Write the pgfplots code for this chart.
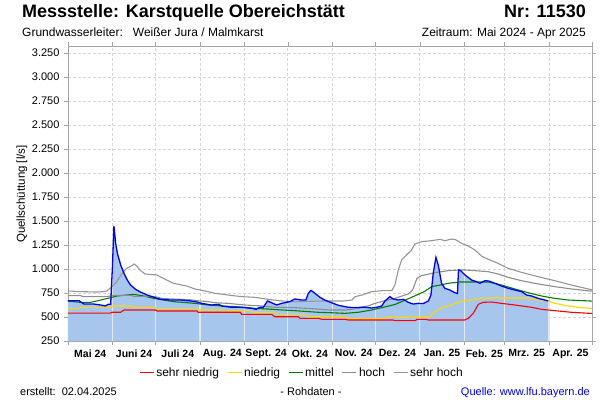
\documentclass[border=0pt]{standalone}
\usepackage{fontspec}
\setmainfont{Liberation Sans}
\usepackage{pgfplots}
\pgfplotsset{compat=1.18}
\usepackage{pgfplotstable}

\definecolor{fillblue}{RGB}{166,198,238}
\definecolor{lineblue}{RGB}{0,0,255}
\definecolor{cred}{RGB}{255,0,0}
\definecolor{cyellow}{RGB}{255,215,0}
\definecolor{cgreen}{RGB}{0,128,0}
\definecolor{choch}{RGB}{140,140,140}
\definecolor{csehrhoch}{RGB}{150,150,150}
\definecolor{gridc}{RGB}{215,215,215}
\definecolor{axisc}{RGB}{165,165,165}
\definecolor{combc}{RGB}{226,229,234}
\definecolor{quelle}{RGB}{0,0,255}

\pgfplotstableread{
d v
0 670
7.7 670
11 635
18 635
22.7 625
26 615
28 632
29.7 632
30.9 1007
32 1448
33.2 1267
34.4 1163
36.7 1042
39 955
41.3 885
43.6 833
47.1 788
50.5 760
55.2 729
59.9 705
64.5 684
71.5 677
78.5 677
85.4 667
90 656
93.1 642
100 625
105 632
107 615
114 601
121 601
128 590
131 580
133.7 601
136 601
139 667
141.8 649
145.3 625
148.8 642
154.6 660
158 688
162.7 677
165.7 677
167.4 747
169.2 778
172 747
175.5 705
179 675
183.6 649
188.2 622
195.2 601
202.2 597
206.8 601
211.5 594
215 601
218.5 615
220.8 667
224.2 712
226.5 688
230 677
233.5 684
237 653
240.5 635
244 642
247.4 640
251 667
252.8 729
254.4 955
256.3 1121
257.9 1042
260.2 851
262.5 799
266 781
269.5 753
271.3 745
272 990
273.5 983
276.5 938
281.1 885
284.6 868
286.9 851
290.4 878
293 875
297.4 851
302 823
306.6 799
311.3 781
316 764
319.4 729
322.9 719
327.5 694
332 677
334.5 667
}\blue

\pgfplotstableread{
d v
0 540
29.5 540
30.7 549
36.6 549
39 573
61 573
62 563
90 563
90.5 549
120 549
121 528
141.8 528
144 503
160.4 503
161.6 486
174.4 486
176.8 476
193 476
195 469
226 469
228 462
242 462
243 476
249 476
251 469
276.5 469
278.8 486
282.3 538
285.8 632
289.3 653
295 656
302 642
311.3 625
322.9 601
329.8 580
339.1 566
350.7 549
363.5 538
365 538
}\red

\pgfplotstableread{
d v
0 590
8 590
8.6 601
29.5 601
30.7 615
43.5 615
45.9 601
59.7 601
62 590
90 590
90.5 573
110 573
111.6 566
126 566
128 549
144 549
146.5 528
165 528
167.4 503
193 503
195 486
221 486
223 497
251 497
254.4 538
259.1 590
262.5 608
267.2 625
271 650
276.5 670
281.1 677
285.8 694
292.7 698
320.5 698
325.2 684
334.5 667
339.1 642
348.4 615
357.7 597
363.5 590
365 590
}\yellow

\pgfplotstableread{
d v
0 665
8.6 653
15.6 653
20.2 667
24.8 684
29.5 701
34.1 719
41.1 729
45.7 736
52.7 719
59.7 694
66.6 677
73.5 660
82.8 649
88.4 642
97.7 625
107 615
116.3 608
125.6 597
130.2 590
139.5 583
148.8 573
158.1 566
167.4 556
174.4 549
182.5 545
192.9 538
202.2 549
211.5 573
220.8 605
227.7 630
234.7 675
241.6 720
248.6 768
253.3 816
259.1 832
264.9 851
273 865
281.1 865
292.7 865
302 833
311.3 792
320.5 753
329.8 719
339.1 694
348.4 677
363.5 667
365 665
}\green

\pgfplotstableread{
d v
0 722
8.6 722
11 712
27 712
32 726
43.5 726
46 715
59.7 715
66 692
85 680
90 670
97.7 660
102.3 649
111.6 642
123.2 625
134.9 615
144.2 601
158.1 597
169.8 587
182.5 573
192.9 573
197.8 580
202.2 601
209 615
213.8 642
220.8 670
227.7 694
234.7 729
237 740
240 780
243 900
246 930
255.6 962
264.9 983
273 990
276.5 990
283.4 983
292.7 972
299.6 948
306.6 913
315.9 878
327.5 844
339.1 816
350.7 792
363.5 771
365 771
}\hoch

\pgfplotstableread{
d v
0 771
10 764
20 760
24.6 764
27 771
29.3 799
33 851
36.2 920
38 960
40.9 1007
44 1030
46 1052
48 1030
50.1 990
53.6 948
61.8 938
68.7 885
73.4 851
82.7 823
88.4 792
95.4 771
102.3 747
111.6 729
120.9 712
130.2 705
139.5 684
148.8 667
158.1 660
179 667
192 667
197.8 677
200.1 712
204.8 729
211.5 764
218.5 774
225.5 774
227.7 833
230.1 990
232.4 1094
235.8 1146
239.3 1198
241.6 1260
246.3 1285
253.3 1295
259.1 1309
262.5 1295
267.2 1312
270 1305
274.1 1267
278.8 1240
283.4 1198
288 1135
292.7 1101
299.6 1059
306.6 1007
315.9 965
327.5 920
339.1 878
350.7 833
363.5 788
365 785
}\sehrhoch

\pgfplotstableread{
d v
31 1007
61 700
92 652
123 600
153 665
184 647
214 598
245 640
276 945
304 825
335 670
}\comb

\begin{document}
\begin{tikzpicture}
\useasboundingbox (0pt,0pt) rectangle (600pt,400pt);
\begin{axis}[
  at={(68pt,59pt)}, anchor=south west,
  scale only axis, width=524pt, height=295pt,
  xmin=0, xmax=365, ymin=250, ymax=3323,
  axis line style={draw=axisc},
  tick style={draw=axisc},
  tick align=outside,
  major tick length=4pt,
  xtick={0,31,61,92,123,153,184,214,245,276,304,335,365},
  xticklabels={Mai 24,Juni 24,Juli 24,Aug. 24,Sept. 24,Okt. 24,Nov. 24,Dez. 24,Jan. 25,Feb. 25,Mrz. 25,Apr. 25},
  x tick label as interval,
  ytick={250,500,...,3250},
  /pgf/number format/1000 sep={.},
  /pgf/number format/assume math mode=true,
  yticklabel style={font=\fontsize{11}{13}\selectfont, xshift=-1pt},
  xticklabel style={font=\fontsize{10.5}{13}\selectfont\bfseries, yshift=-1pt},
  grid=major,
  major grid style={draw=gridc, dash pattern=on 3pt off 2pt, line width=0.6pt},
  legend columns=5,
  legend style={at={(0.4466,-0.108)}, anchor=center, draw=none, fill=none,
    font=\fontsize{12}{14}\selectfont,
    /tikz/every even column/.append style={column sep=6pt}},
  legend image code/.code={\draw[#1] (0pt,0pt) -- (14pt,0pt);},
]
\addplot[fill=fillblue, draw=none, forget plot] table[x=d,y=v] {\blue} \closedcycle;
\addplot[ycomb, draw=combc, line width=1.2pt, forget plot] table[x=d,y=v] {\comb};
\addplot[cred, line width=1.1pt] table[x=d,y=v] {\red};
\addlegendentry{sehr niedrig}
\addplot[cyellow, line width=1.1pt] table[x=d,y=v] {\yellow};
\addlegendentry{niedrig}
\addplot[cgreen, line width=1.1pt] table[x=d,y=v] {\green};
\addlegendentry{mittel}
\addplot[choch, line width=1.1pt] table[x=d,y=v] {\hoch};
\addlegendentry{hoch}
\addplot[csehrhoch, line width=1.1pt] table[x=d,y=v] {\sehrhoch};
\addlegendentry{sehr hoch}
\addplot[lineblue, line width=1.3pt, forget plot] table[x=d,y=v] {\blue};
\end{axis}

\node[anchor=base west, inner sep=0pt] at (22pt,382pt) {\fontsize{18}{21}\selectfont\bfseries Messstelle: Karstquelle Obereichstätt};
\node[anchor=base east, inner sep=0pt] at (586pt,382pt) {\fontsize{18}{21}\selectfont\bfseries Nr: 11530};
\node[anchor=base west, inner sep=0pt] at (22pt,363pt) {\fontsize{12}{14}\selectfont Grundwasserleiter:\ \ \ Weißer Jura / Malmkarst};
\node[anchor=base east, inner sep=0pt] at (586pt,363pt) {\fontsize{12}{14}\selectfont Zeitraum: Mai 2024 - Apr 2025};
\node[rotate=90, inner sep=0pt] at (22pt,206pt) {\fontsize{11.5}{13}\selectfont Quellschüttung [l/s]};
\node[anchor=base west, inner sep=0pt] at (20pt,5pt) {\fontsize{11}{13}\selectfont erstellt:\ \ 02.04.2025};
\node[anchor=base, inner sep=0pt] at (311pt,5pt) {\fontsize{11}{13}\selectfont - Rohdaten -};
\node[anchor=base east, inner sep=0pt] at (590pt,5pt) {\fontsize{11}{13}\selectfont\color{quelle} Quelle: www.lfu.bayern.de};
\end{tikzpicture}
\end{document}
